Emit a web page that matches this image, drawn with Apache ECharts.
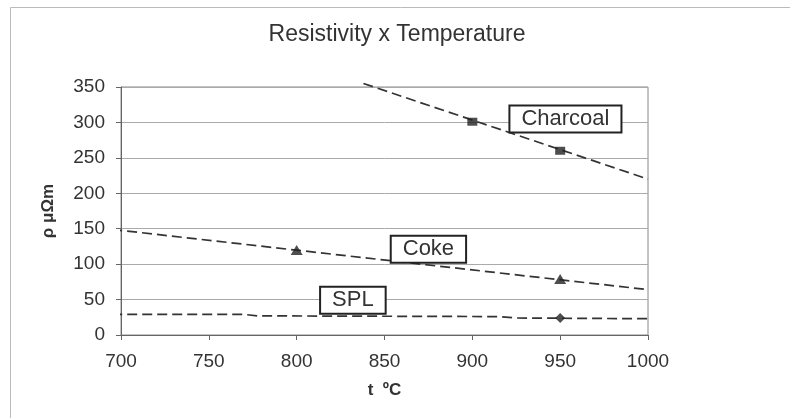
<!DOCTYPE html>
<html>
<head>
<meta charset="utf-8">
<script src="https://cdn.jsdelivr.net/npm/echarts@6/dist/echarts.min.js"></script>
<style>
html,body{margin:0;padding:0;background:#fff;}
#c{width:790px;height:418px;}
</style>
</head>
<body>
<div id="c"></div>
<script>
// Measured points
const charcoalT = [900, 950];
const charcoalR = [301, 260];
const cokeT = [800, 950];
const cokeR = [120, 79];
const splT = [950];
const splR = [24];

// Trend lines (dashed)
const charcoalTrendT = [838, 1000];
const charcoalTrendR = [355, 220];
const cokeTrendT = [695, 1000];
const cokeTrendR = [149, 64];
const splTrendT = [695, 770, 778, 915, 925, 1000];
const splTrendR = [29, 29, 27, 26, 24, 23];

// Label boxes (data coords)
const labelNames = ['Charcoal', 'Coke', 'SPL'];
const labelT = [953, 875, 832];
const labelR = [305, 121, 49];

const xTicks = [700, 750, 800, 850, 900, 950, 1000];
const yTicks = [0, 50, 100, 150, 200, 250, 300, 350];

function pairs(a, b) { return a.map((v, i) => [v, b[i]]); }

const chart = echarts.init(document.getElementById('c'), null, {renderer: 'canvas'});
const FONT = '"Liberation Sans", Arial, sans-serif';
const ink = '#333';
const lineStyle = {color: '#333', width: 1.7, type: [10, 5]};
const boxLabel = {
  show: true, position: 'inside', color: '#333', fontSize: 22, fontFamily: FONT,
  backgroundColor: '#fff', borderColor: '#222', borderWidth: 2, padding: [2, 11, 1, 11]
};

chart.setOption({
  animation: false,
  backgroundColor: '#fff',
  title: {
    text: 'Resistivity x Temperature',
    left: 392, top: 18, textAlign: 'center',
    textStyle: {fontFamily: FONT, fontSize: 23, fontWeight: 'normal', color: ink}
  },
  graphic: [{
    type: 'rect', shape: {x: 10.5, y: 7.5, width: 900, height: 500},
    style: {fill: 'none', stroke: '#bbb', lineWidth: 1}, silent: true
  }],
  grid: {left: 121, right: 142, top: 87, bottom: 83, show: true, borderColor: '#888', borderWidth: 1},
  xAxis: {
    type: 'value', min: 700, max: 1000, interval: 50,
    name: 't  ºC', nameLocation: 'middle', nameGap: 47,
    nameTextStyle: {fontFamily: FONT, fontSize: 17, fontWeight: 'bold', color: ink},
    axisLine: {show: true, lineStyle: {color: '#666', width: 1}},
    axisTick: {show: true, inside: false, length: 5, lineStyle: {color: '#666'}},
    axisLabel: {fontFamily: FONT, fontSize: 19, color: ink, margin: 17,
      formatter: v => xTicks.includes(v) ? String(v) : ''},
    splitLine: {show: false}
  },
  yAxis: {
    type: 'value', min: 0, max: 350, interval: 50,
    name: 'ρ μΩm', nameLocation: 'middle', nameGap: 64,
    nameTextStyle: {fontFamily: FONT, fontSize: 17, fontWeight: 'bold', color: ink},
    axisLine: {show: true, lineStyle: {color: '#666', width: 1}},
    axisTick: {show: true, inside: false, length: 5, lineStyle: {color: '#666'}},
    axisLabel: {fontFamily: FONT, fontSize: 19, color: ink, margin: 16,
      formatter: v => yTicks.includes(v) ? String(v) : ''},
    splitLine: {show: true, lineStyle: {color: '#aaa', width: 1}}
  },
  series: [
    {type: 'line', data: pairs(charcoalTrendT, charcoalTrendR), symbol: 'none', clip: false,
     lineStyle: lineStyle, z: 3,
     markPoint: {symbol: 'rect', symbolSize: 1, itemStyle: {color: 'transparent'},
       data: [{coord: [labelT[0], labelR[0]], label: Object.assign({}, boxLabel, {formatter: labelNames[0]})}]}},
    {type: 'line', data: pairs(cokeTrendT, cokeTrendR), symbol: 'none', clip: false,
     lineStyle: lineStyle, z: 3,
     markPoint: {symbol: 'rect', symbolSize: 1, itemStyle: {color: 'transparent'},
       data: [{coord: [labelT[1], labelR[1]], label: Object.assign({}, boxLabel, {formatter: labelNames[1]})}]}},
    {type: 'line', data: pairs(splTrendT, splTrendR), symbol: 'none', clip: false,
     lineStyle: lineStyle, z: 3,
     markPoint: {symbol: 'rect', symbolSize: 1, itemStyle: {color: 'transparent'},
       data: [{coord: [labelT[2], labelR[2]], label: Object.assign({}, boxLabel, {formatter: labelNames[2]})}]}},
    {type: 'scatter', data: pairs(charcoalT, charcoalR), symbol: 'rect', symbolSize: [10, 8],
     itemStyle: {color: '#222'}, z: 4},
    {type: 'scatter', data: pairs(cokeT, cokeR), symbol: 'triangle', symbolSize: [12, 10],
     itemStyle: {color: '#222'}, z: 4},
    {type: 'scatter', data: pairs(splT, splR), symbol: 'diamond', symbolSize: [10, 10],
     itemStyle: {color: '#222'}, z: 4}
  ]
});
</script>
</body>
</html>
